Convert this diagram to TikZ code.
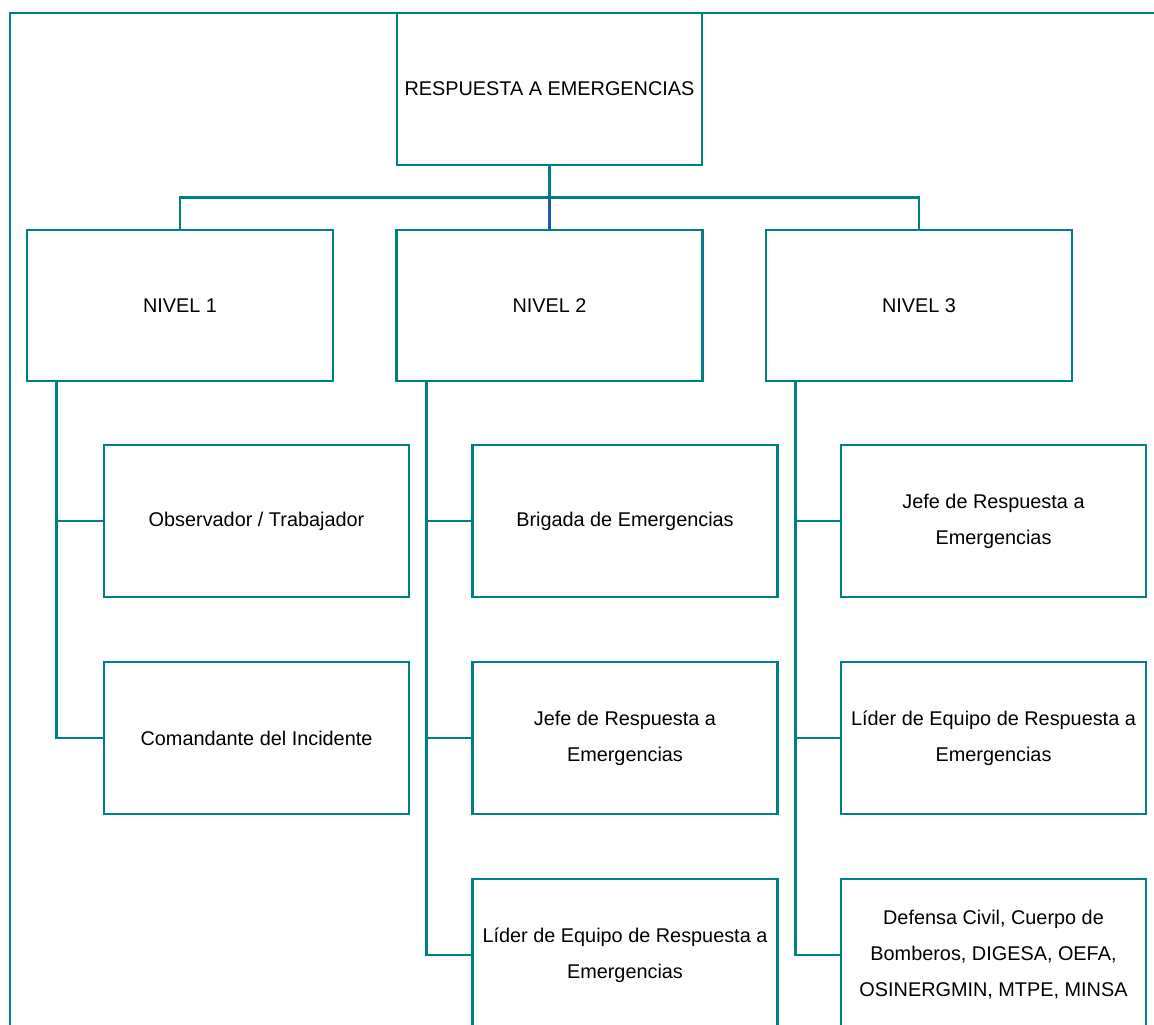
\documentclass[tikz,border=0pt]{standalone}
\usepackage{fontspec}
\setmainfont{Liberation Sans}
\definecolor{orgteal}{RGB}{0,128,128}
\definecolor{orgblue}{RGB}{30,90,170}
\begin{document}
\begin{tikzpicture}[every node/.style={font=\fontsize{11.3}{20.5}\selectfont},
  box/.style={draw=orgteal,line width=1.6pt,minimum width=6.1cm,minimum height=3.04cm,align=center,inner sep=2pt},
  link/.style={draw=orgteal,line width=1.6pt}]
\useasboundingbox (0,0) rectangle (23.08,20.5);
\clip (0,0) rectangle (23.08,20.5);
% outer frame
\draw[link] (0.2,-1) |- (24,20.24);
\node[box] (resp) at (10.99,18.72) {RESPUESTA A EMERGENCIAS};
\node[box,minimum width=6.12cm,minimum height=3.02cm] (niv1) at (3.6,14.39) {NIVEL 1};
\node[box,minimum width=6.12cm,minimum height=3.02cm] (niv2) at (10.99,14.39) {NIVEL 2};
\node[box,minimum width=6.12cm,minimum height=3.02cm] (niv3) at (18.38,14.39) {NIVEL 3};
\node[box] (obs) at (5.13,10.08) {Observador / Trabajador};
\node[box] (cmd) at (5.13,5.74) {Comandante del Incidente};
\node[box] (brig) at (12.5,10.08) {Brigada de Emergencias};
\node[box] (jefe2) at (12.5,5.74) {Jefe de Respuesta a\\Emergencias};
\node[box] (lider2) at (12.5,1.40) {Líder de Equipo de Respuesta a\\Emergencias};
\node[box] (jefe3) at (19.87,10.08) {Jefe de Respuesta a\\Emergencias};
\node[box] (lider3) at (19.87,5.74) {Líder de Equipo de Respuesta a\\Emergencias};
\node[box] (ext) at (19.87,1.40) {Defensa Civil, Cuerpo de\\Bomberos, DIGESA, OEFA,\\OSINERGMIN, MTPE, MINSA};
% top level
\coordinate (bus) at (10.99,16.55);
\draw[link] (resp.south) -- (bus);
\draw[link] (niv1.north) |- (bus) -| (niv3.north);
\draw[line width=1.6pt,orgblue] (bus) -- (niv2.north);
% trunks
\coordinate (t1) at ([xshift=0.62cm]niv1.south west);
\coordinate (t2) at ([xshift=0.62cm]niv2.south west);
\coordinate (t3) at ([xshift=0.62cm]niv3.south west);
\draw[link] (t1) |- (cmd.west);
\draw[link] (t1 |- obs.west) -- (obs.west);
\draw[link] (t2) |- (lider2.west);
\draw[link] (t2 |- brig.west) -- (brig.west);
\draw[link] (t2 |- jefe2.west) -- (jefe2.west);
\draw[link] (t3) |- (ext.west);
\draw[link] (t3 |- jefe3.west) -- (jefe3.west);
\draw[link] (t3 |- lider3.west) -- (lider3.west);
\end{tikzpicture}
\end{document}
